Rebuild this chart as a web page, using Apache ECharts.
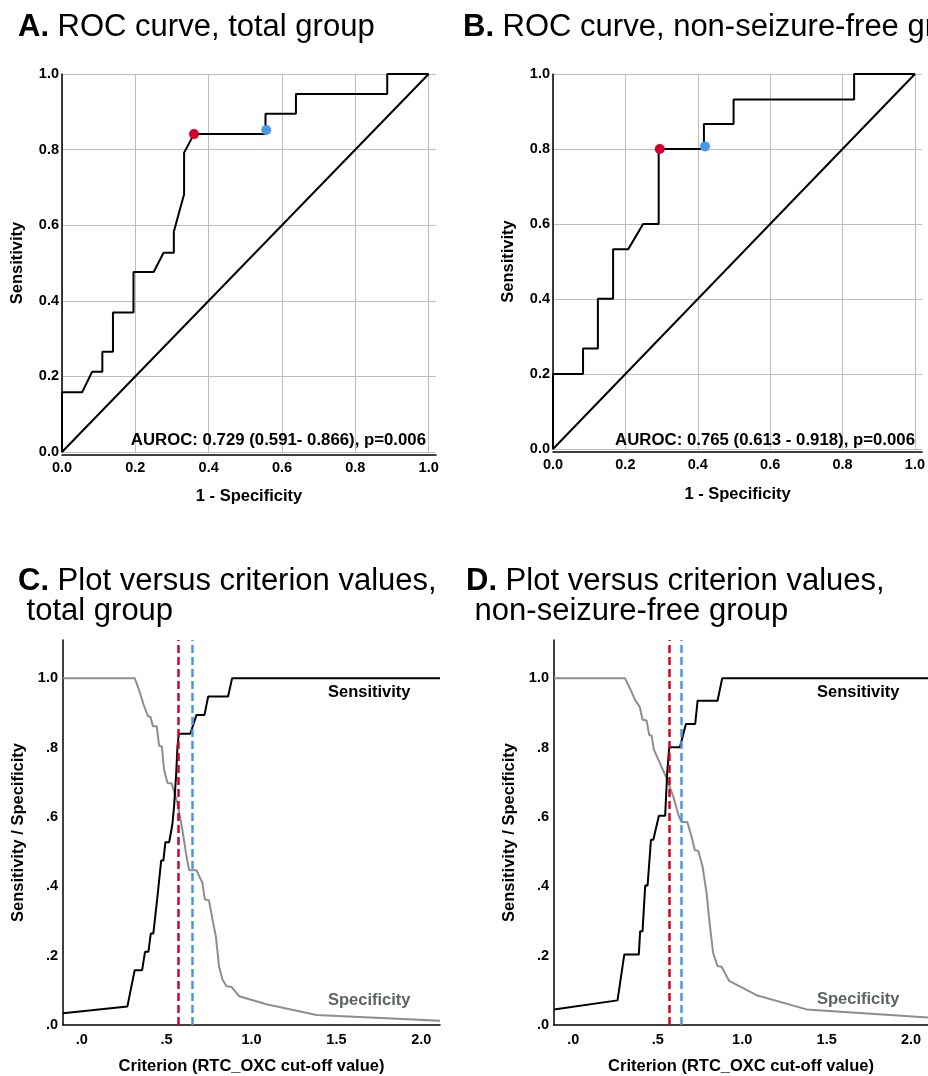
<html>
<head>
  <meta charset="utf-8">
  <title>ROC curves</title>
  <script src="https://cdn.jsdelivr.net/npm/echarts@6.0.0/dist/echarts.min.js"></script>
  <style>
    body { margin: 0px; background: white; }
    #chart { width: 928px; height: 1076px; }
  </style>
</head>
<body>
  <div id="chart"></div>
<script type="text/javascript">
  // ROC, total group
  const rocA_fpr = [0, 0, 0.055, 0.082, 0.11, 0.11, 0.139, 0.139, 0.195, 0.195, 0.25, 0.277, 0.305, 0.305, 0.333, 0.333, 0.36, 0.555, 0.555, 0.638, 0.638, 0.887, 0.887, 1.0]
  const rocA_tpr = [0, 0.158, 0.158, 0.212, 0.212, 0.265, 0.265, 0.369, 0.369, 0.476, 0.476, 0.527, 0.527, 0.583, 0.682, 0.792, 0.841, 0.841, 0.895, 0.895, 0.947, 0.947, 1.0, 1.0]
  const rocA_red = [0.36, 0.841]
  const rocA_blue = [0.557, 0.852]

  // ROC, non-seizure-free group
  const rocB_fpr = [0, 0, 0.083, 0.083, 0.124, 0.124, 0.166, 0.166, 0.208, 0.249, 0.292, 0.292, 0.417, 0.417, 0.499, 0.499, 0.832, 0.832, 1.0]
  const rocB_tpr = [0, 0.2, 0.2, 0.268, 0.268, 0.401, 0.401, 0.533, 0.533, 0.6, 0.6, 0.8, 0.8, 0.867, 0.867, 0.932, 0.932, 1.0, 1.0]
  const rocB_red = [0.295, 0.8]
  const rocB_blue = [0.42, 0.807]

  const diagonal = [0, 1]

  // criterion plot, total group
  const critC_sensX = [-0.11, 0.269, 0.312, 0.356, 0.373, 0.393, 0.407, 0.422, 0.446, 0.454, 0.468, 0.481, 0.493, 0.515, 0.534, 0.544, 0.556, 0.564, 0.572, 0.64, 0.676, 0.723, 0.745, 0.862, 0.886, 2.11]
  const critC_sens = [0.034, 0.053, 0.158, 0.158, 0.211, 0.211, 0.264, 0.264, 0.369, 0.369, 0.474, 0.474, 0.527, 0.527, 0.578, 0.63, 0.72, 0.803, 0.84, 0.84, 0.894, 0.894, 0.947, 0.947, 1.0, 1.0]
  const critC_specX = [-0.11, 0.312, 0.338, 0.365, 0.391, 0.405, 0.42, 0.442, 0.456, 0.472, 0.485, 0.505, 0.53, 0.564, 0.593, 0.617, 0.633, 0.676, 0.711, 0.725, 0.749, 0.774, 0.79, 0.809, 0.829, 0.853, 0.882, 0.927, 1.088, 1.383, 2.11]
  const critC_spec = [1.0, 1.0, 0.966, 0.923, 0.89, 0.888, 0.861, 0.861, 0.805, 0.803, 0.736, 0.698, 0.696, 0.64, 0.563, 0.487, 0.446, 0.446, 0.41, 0.362, 0.36, 0.295, 0.256, 0.168, 0.131, 0.112, 0.11, 0.083, 0.06, 0.029, 0.012]
  const critC_cuts = [0.574, 0.648]

  // criterion plot, non-seizure-free group
  const critD_sensX = [-0.114, 0.262, 0.302, 0.388, 0.396, 0.41, 0.426, 0.44, 0.46, 0.474, 0.507, 0.544, 0.556, 0.568, 0.631, 0.667, 0.722, 0.736, 0.854, 0.882, 2.11]
  const critD_sens = [0.045, 0.071, 0.203, 0.203, 0.27, 0.27, 0.402, 0.402, 0.534, 0.534, 0.603, 0.603, 0.726, 0.801, 0.801, 0.868, 0.868, 0.935, 0.935, 1.0, 1.0]
  const critD_specX = [-0.114, 0.306, 0.335, 0.365, 0.394, 0.41, 0.434, 0.45, 0.464, 0.477, 0.513, 0.552, 0.592, 0.625, 0.641, 0.675, 0.7, 0.72, 0.74, 0.765, 0.789, 0.809, 0.828, 0.854, 0.878, 0.923, 1.085, 1.381, 2.11]
  const critD_spec = [1.0, 1.0, 0.971, 0.938, 0.917, 0.88, 0.878, 0.836, 0.834, 0.794, 0.755, 0.712, 0.659, 0.602, 0.585, 0.585, 0.544, 0.504, 0.502, 0.458, 0.381, 0.285, 0.208, 0.17, 0.168, 0.127, 0.086, 0.045, 0.021]
  const critD_cuts = [0.568, 0.641]

  const critTicks = [0, 0.5, 1.0, 1.5, 2.0]
  const critYTicks = [0, 0.2, 0.4, 0.6, 0.8, 1.0]

  const FONT = "'Liberation Sans', Arial, sans-serif"
  const RED = '#d6002a'
  const BLUE = '#4a98e6'

  const zip = (xs, ys) => xs.map((x, i) => [x, ys[i]])
  const noLead = (v) => v.toFixed(1).replace(/^0/, '')

  const labelStyle = { color: '#000', fontWeight: 'bold', fontSize: 14.5, fontFamily: FONT }
  const nameStyle = { color: '#000', fontWeight: 'bold', fontSize: 16.5, fontFamily: FONT }

  function rocX(grid, gap) {
    return {
      type: 'value', gridIndex: grid, min: 0, max: 1.02, interval: 0.2, offset: 3,
      name: '1 - Specificity', nameLocation: 'middle', nameGap: gap, nameTextStyle: nameStyle,
      axisLine: { show: true, onZero: false, lineStyle: { color: '#000', width: 1.5 } },
      axisTick: { show: false },
      axisLabel: Object.assign({ margin: 5, showMaxLabel: false, formatter: (v) => v.toFixed(1) }, labelStyle),
      splitLine: { show: true, showMaxLine: false, lineStyle: { color: '#bdbdbd', width: 1 } }
    }
  }
  function rocY(grid) {
    return {
      type: 'value', gridIndex: grid, min: 0, max: 1, interval: 0.2,
      name: 'Sensitivity', nameLocation: 'middle', nameGap: 36, nameTextStyle: nameStyle,
      axisLine: { show: true, lineStyle: { color: '#000', width: 1.5 } },
      axisTick: { show: false },
      axisLabel: Object.assign({ margin: 3, formatter: (v) => v.toFixed(1) }, labelStyle),
      splitLine: { show: true, lineStyle: { color: '#bdbdbd', width: 1 } }
    }
  }
  function critX(grid, min, max) {
    return {
      type: 'value', gridIndex: grid, min: min, max: max,
      name: 'Criterion (RTC_OXC cut-off value)', nameLocation: 'middle', nameGap: 33, nameTextStyle: nameStyle,
      axisLine: { show: true, onZero: false, lineStyle: { color: '#000', width: 1.5 } },
      axisTick: { show: false },
      axisLabel: Object.assign({ margin: 7, customValues: critTicks, formatter: noLead }, labelStyle),
      splitLine: { show: false }
    }
  }
  function critY(grid) {
    return {
      type: 'value', gridIndex: grid, min: 0, max: 1.11,
      name: 'Sensitivity / Specificity', nameLocation: 'middle', nameGap: 36, nameTextStyle: nameStyle,
      axisLine: { show: true, onZero: false, lineStyle: { color: '#000', width: 1.5 } },
      axisTick: { show: false },
      axisLabel: Object.assign({ margin: 5, customValues: critYTicks, formatter: noLead }, labelStyle),
      splitLine: { show: false }
    }
  }

  function rocSeries(idx, fpr, tpr, red, blue) {
    return [
      { type: 'line', xAxisIndex: idx, yAxisIndex: idx, data: zip(diagonal, diagonal), symbol: 'none',
        lineStyle: { color: '#000', width: 2 }, silent: true },
      { type: 'line', xAxisIndex: idx, yAxisIndex: idx, data: zip(fpr, tpr), symbol: 'none',
        lineStyle: { color: '#000', width: 2 }, silent: true },
      { type: 'scatter', xAxisIndex: idx, yAxisIndex: idx, data: [red], symbolSize: 10,
        itemStyle: { color: RED, opacity: 1 }, z: 5 },
      { type: 'scatter', xAxisIndex: idx, yAxisIndex: idx, data: [blue], symbolSize: 10,
        itemStyle: { color: BLUE, opacity: 1 }, z: 5 }
    ]
  }

  function critSeries(idx, sx, sy, px, py, cuts) {
    return [
      { type: 'line', xAxisIndex: idx, yAxisIndex: idx, data: zip(px, py), symbol: 'none',
        lineStyle: { color: '#8e8e8e', width: 2 }, silent: true, z: 2 },
      { type: 'line', xAxisIndex: idx, yAxisIndex: idx, data: zip(sx, sy), symbol: 'none',
        lineStyle: { color: '#000', width: 2 }, silent: true, z: 3,
        markLine: {
          silent: true, symbol: 'none', label: { show: false }, animation: false,
          data: [
            { xAxis: cuts[0], lineStyle: { color: RED, type: [8, 4], width: 2.5 } },
            { xAxis: cuts[1], lineStyle: { color: BLUE, type: [8, 4], width: 2.5 } }
          ]
        } }
    ]
  }

  const titleStyle = { fontSize: 31, fontWeight: 'normal', color: '#000', fontFamily: FONT, lineHeight: 30,
    rich: { b: { fontSize: 31, fontWeight: 'bold', color: '#000', fontFamily: FONT, lineHeight: 30 } } }

  const option = {
    animation: false,
    backgroundColor: '#fff',
    title: [
      { text: '{b|A.} ROC curve, total group', left: 18, top: 12, padding: 0, textStyle: titleStyle },
      { text: '{b|B.} ROC curve, non-seizure-free group', left: 463, top: 12, padding: 0, textStyle: titleStyle },
      { text: '{b|C.} Plot versus criterion values,\n total group', left: 18, top: 566, padding: 0, textStyle: titleStyle },
      { text: '{b|D.} Plot versus criterion values,\n non-seizure-free group', left: 466, top: 566, padding: 0, textStyle: titleStyle }
    ],
    grid: [
      { left: 62, top: 74, width: 374, height: 378 },
      { left: 553, top: 74, width: 375, height: 375 },
      { left: 63, top: 640, width: 377, height: 386 },
      { left: 554, top: 640, width: 374, height: 386 }
    ],
    xAxis: [rocX(0, 33), rocX(1, 34), critX(2, -0.11, 2.11), critX(3, -0.114, 2.1)],
    yAxis: [rocY(0), rocY(1), critY(2), critY(3)],
    series: [].concat(
      rocSeries(0, rocA_fpr, rocA_tpr, rocA_red, rocA_blue),
      rocSeries(1, rocB_fpr, rocB_tpr, rocB_red, rocB_blue),
      critSeries(2, critC_sensX, critC_sens, critC_specX, critC_spec, critC_cuts),
      critSeries(3, critD_sensX, critD_sens, critD_specX, critD_spec, critD_cuts)
    ),
    graphic: [
      { type: 'text', right: 928 - 426, top: 432, z: 10,
        style: { text: 'AUROC: 0.729 (0.591- 0.866), p=0.006', font: 'bold 16.8px ' + FONT, fill: '#000' } },
      { type: 'text', right: 928 - 915, top: 432, z: 10,
        style: { text: 'AUROC: 0.765 (0.613 - 0.918), p=0.006', font: 'bold 16.8px ' + FONT, fill: '#000' } },
      { type: 'text', left: 328, top: 684, z: 10,
        style: { text: 'Sensitivity', font: 'bold 16.5px ' + FONT, fill: '#000' } },
      { type: 'text', left: 328, top: 992, z: 10,
        style: { text: 'Specificity', font: 'bold 16.5px ' + FONT, fill: '#5c6660' } },
      { type: 'text', left: 817, top: 684, z: 10,
        style: { text: 'Sensitivity', font: 'bold 16.5px ' + FONT, fill: '#000' } },
      { type: 'text', left: 817, top: 991, z: 10,
        style: { text: 'Specificity', font: 'bold 16.5px ' + FONT, fill: '#5c6660' } }
    ]
  }

  const myChart = echarts.init(document.getElementById('chart'), null, { renderer: 'canvas' })
  myChart.setOption(option)
</script>
</body>
</html>
